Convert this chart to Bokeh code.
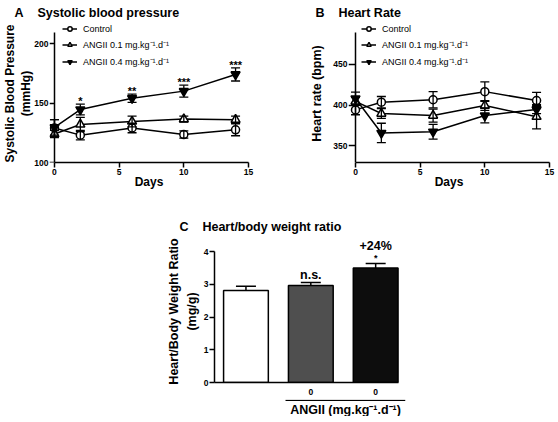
from bokeh.plotting import figure
from bokeh.models import (ColumnDataSource, Whisker, TeeHead, Legend, LegendItem,
                          LinearAxis, FixedTicker, Spacer, Range1d)
from bokeh.layouts import column, row
from bokeh.core.properties import value
from bokeh.embed import file_html
from bokeh.resources import INLINE

# ---------------- data ----------------
days = [0, 2, 6, 10, 14]
series_labels = ["Control", "ANGII 0.1 mg.kg\u207b\u00b9.d\u207b\u00b9", "ANGII 0.4 mg.kg\u207b\u00b9.d\u207b\u00b9"]

sbp_control = [129, 123, 129, 123.5, 127.5]
sbp_control_err = [7, 4, 4, 3, 5]
sbp_ang01 = [124, 132, 134.5, 136.5, 136]
sbp_ang01_err = [3, 6, 4.5, 2.5, 3]
sbp_ang04 = [129.5, 144.5, 154, 160, 174]
sbp_ang04_err = [6.5, 4.5, 3.5, 5, 5.5]
sbp_sig = ["", "*", "**", "***", "***"]

hr_control = [394, 403.5, 406.5, 416.5, 405.5]
hr_control_err = [6, 7, 10, 12, 10]
hr_ang01 = [404.5, 389.5, 387, 399.5, 385.5]
hr_ang01_err = [5, 6, 8, 6, 15]
hr_ang04 = [408, 365.5, 367, 387, 394.5]
hr_ang04_err = [8, 12, 9, 9, 5]

bar_groups = ["Control", "ANGII 0.1", "ANGII 0.4"]
bar_dose_labels = ["", "0", "0"]
hbw_ratio = [2.81, 2.96, 3.50]
hbw_err = [0.13, 0.09, 0.13]
hbw_sig = ["", "n.s.", "*"]
hbw_change = ["", "", "+24%"]
bracket_label = "ANGII (mg.kg\u207b\u00b9.d\u207b\u00b9)"

FONT = "Liberation Sans"
NB = "\u00a0"


def style_common(p):
    p.grid.visible = False
    p.outline_line_color = None
    p.background_fill_color = "white"
    p.border_fill_color = "white"
    p.title.text_font = FONT
    p.title.text_font_size = "12.5px"
    p.title.text_font_style = "bold"
    p.title.text_color = "black"


def style_axis(ax, tick_size="8.5px"):
    ax.axis_line_width = 1.5
    ax.axis_line_color = "black"
    ax.major_tick_line_width = 1.5
    ax.major_tick_line_color = "black"
    ax.major_tick_in = 0
    ax.major_tick_out = 5
    ax.minor_tick_line_color = None
    ax.major_label_text_font = FONT
    ax.major_label_text_font_size = tick_size
    ax.major_label_text_font_style = "bold"
    ax.major_label_text_color = "black"
    ax.major_label_standoff = 1
    ax.axis_label_text_font = FONT
    ax.axis_label_text_font_style = "bold"
    ax.axis_label_text_color = "black"


def add_y_axes(p, ticks, bounds, label, label_size, label_standoff, tick_out, line_height=1.2):
    # spine + tick marks placed at x = 0 (day 0)
    spine = LinearAxis(ticker=FixedTicker(ticks=ticks), fixed_location=0, bounds=bounds)
    style_axis(spine)
    spine.major_tick_out = tick_out
    spine.major_label_text_color = None
    # tick labels + axis title at the frame edge
    lab = LinearAxis(ticker=FixedTicker(ticks=ticks), axis_label=label)
    style_axis(lab)
    lab.axis_line_color = None
    lab.major_tick_line_color = None
    lab.major_tick_out = 0
    lab.axis_label_text_font_size = label_size
    lab.axis_label_standoff = label_standoff
    lab.axis_label_text_line_height = line_height
    p.add_layout(lab, "left")
    p.add_layout(spine, "left")


def time_panel(p, ys, errs, markers, sizes, fills, labels, legend_xy):
    items = []
    for y, e, m, s, f, lab in zip(ys, errs, markers, sizes, fills, labels):
        src = ColumnDataSource(dict(x=days, y=y,
                                    lo=[a - b for a, b in zip(y, e)],
                                    hi=[a + b for a, b in zip(y, e)]))
        ln = p.line("x", "y", source=src, line_color="black", line_width=1.5)
        p.add_layout(Whisker(source=src, base="x", lower="lo", upper="hi",
                             line_color="black", line_width=1.3, level="glyph",
                             upper_head=TeeHead(size=9, line_width=1.3, line_color="black"),
                             lower_head=TeeHead(size=9, line_width=1.3, line_color="black")))
        sc = p.scatter("x", "y", source=src, marker=m, size=s, fill_color=f,
                       line_color="black", line_width=1.5)
        items.append(LegendItem(label=lab, renderers=[ln, sc]))
    leg = Legend(items=items, location=legend_xy, orientation="vertical",
                 background_fill_alpha=0, border_line_color=None,
                 padding=0, margin=0, spacing=4, glyph_width=15, glyph_height=11,
                 label_height=11, label_standoff=6,
                 label_text_font=FONT, label_text_font_size="9px",
                 label_text_color="black")
    p.add_layout(leg)


markers = ["circle", "triangle", "inverted_triangle"]
msizes = [8, 9, 9]
mfills = ["white", "white", "black"]

# ---------------- panel A ----------------
pA = figure(width=290, height=208, x_range=Range1d(-0.383, 15), y_range=Range1d(100, 216.0),
            output_backend="svg", toolbar_location=None, y_axis_location=None,
            min_border_left=47, min_border_right=42, min_border_top=24, min_border_bottom=46,
            title="A" + NB * 4 + "Systolic blood pressure")
style_common(pA)
pA.title.offset = -35
pA.title.standoff = 6
pA.title.vertical_align = "top"
time_panel(pA, [sbp_control, sbp_ang01, sbp_ang04],
           [sbp_control_err, sbp_ang01_err, sbp_ang04_err],
           markers, msizes, mfills, series_labels, (13, 94))
sig_src = ColumnDataSource(dict(x=days, y=[a + b for a, b in zip(sbp_ang04, sbp_ang04_err)], t=sbp_sig))
pA.text("x", "y", text="t", source=sig_src, text_align="center", text_baseline="bottom",
        text_font=value(FONT), text_font_size="11px", text_font_style="bold",
        text_color="black", y_offset=3)

pA.xaxis.ticker = FixedTicker(ticks=[0, 5, 10, 15])
pA.xaxis.bounds = (0, 15)
pA.xaxis.axis_label = "Days"
style_axis(pA.xaxis[0])
pA.xaxis.axis_label_text_font_size = "12px"
pA.xaxis.axis_label_standoff = -3
add_y_axes(pA, [100, 150, 200], (100, 209.2), "Systolic Blood Pressure\n(mmHg)", "12px", -2, 5,
           line_height=1.15)

# ---------------- panel B ----------------
pB = figure(width=266, height=208, x_range=Range1d(-0.541, 15), y_range=Range1d(329.1, 499.3),
            output_backend="svg", toolbar_location=None, y_axis_location=None,
            min_border_left=58, min_border_right=7, min_border_top=24, min_border_bottom=46,
            title="B" + NB * 4 + "Heart Rate")
style_common(pB)
pB.title.offset = -33
pB.title.standoff = 6
pB.title.vertical_align = "top"
time_panel(pB, [hr_control, hr_ang01, hr_ang04],
           [hr_control_err, hr_ang01_err, hr_ang04_err],
           markers, msizes, mfills, series_labels, (13, 94))
pB.xaxis.ticker = FixedTicker(ticks=[0, 5, 10, 15])
pB.xaxis.bounds = (0, 15)
pB.xaxis.axis_label = "Days"
style_axis(pB.xaxis[0])
pB.xaxis.axis_label_text_font_size = "12px"
pB.xaxis.axis_label_standoff = -3
add_y_axes(pB, [350, 400, 450], (329.1, 489.4), "Heart rate (bpm)", "12.5px", 6, 7)

# ---------------- panel C ----------------
pos = [i + 1 for i in range(len(bar_groups))]
xr_C = Range1d(0.515, 3.46)
pC = figure(width=254, height=191, x_range=xr_C, y_range=Range1d(0, 4.336),
            output_backend="svg", toolbar_location=None,
            min_border_left=54, min_border_right=9, min_border_top=32, min_border_bottom=17,
            title="C" + NB * 4 + "Heart/body weight ratio")
style_common(pC)
pC.title.offset = -35
pC.title.standoff = 13
bsrc = ColumnDataSource(dict(x=pos, top=hbw_ratio,
                             hi=[a + b for a, b in zip(hbw_ratio, hbw_err)],
                             color=["white", "#4f4f4f", "#0d0d0d"],
                             sig=hbw_sig, chg=hbw_change,
                             sig_size=["12.5px", "12.5px", "9px"]))
pC.add_layout(Whisker(source=bsrc, base="x", lower="top", upper="hi", line_color="black",
                      line_width=1.5, level="underlay",
                      upper_head=TeeHead(size=20, line_width=1.5, line_color="black"),
                      lower_head=None))
pC.vbar(x="x", top="top", bottom=0, width=0.69, source=bsrc, fill_color="color",
        line_color="black", line_width=1.5)
pC.text(x="x", y="hi", text="sig", source=bsrc, text_align="center", text_baseline="bottom",
        text_font=value(FONT), text_font_size="sig_size", text_font_style="bold",
        text_color="black", y_offset=-1)
pC.text(x="x", y="hi", text="chg", source=bsrc, text_align="center", text_baseline="bottom",
        text_font=value(FONT), text_font_size="12.5px", text_font_style="bold",
        text_color="black", y_offset=-11)

pC.xaxis.ticker = FixedTicker(ticks=pos)
pC.xaxis.major_label_overrides = {p_: l_ for p_, l_ in zip(pos, bar_dose_labels)}
pC.xaxis.bounds = (0.515, 3.354)
style_axis(pC.xaxis[0])
pC.xaxis.major_tick_out = 0
pC.xaxis.major_tick_line_color = None
pC.xaxis.major_label_standoff = 6
pC.yaxis.ticker = FixedTicker(ticks=[0, 1, 2, 3, 4])
pC.yaxis.bounds = (0, 4)
style_axis(pC.yaxis[0])
pC.yaxis.axis_label = "Heart/Body Weight Ratio\n(mg/g)"
pC.yaxis.axis_label_text_font_size = "12.5px"
pC.yaxis.axis_label_standoff = 2
pC.yaxis.axis_label_text_line_height = 1.3

# bracket with the ANGII dose label under the two treated groups
pD = figure(width=254, height=17, x_range=xr_C, y_range=Range1d(0, 1),
            output_backend="svg", toolbar_location=None,
            x_axis_location=None, y_axis_location=None,
            min_border_left=54, min_border_right=9, min_border_top=0, min_border_bottom=0)
pD.grid.visible = False
pD.outline_line_color = None
br_x0 = pos[1] - 0.39
br_x1 = pos[2] + 0.46
pD.segment(x0=[br_x0], y0=[0.95], x1=[br_x1], y1=[0.95], line_color="black", line_width=1.2)
pD.text(x=[(br_x0 + br_x1) / 2], y=[0.36], text=[bracket_label], text_align="center",
        text_baseline="middle", text_font=value(FONT), text_font_size="12.5px",
        text_font_style="bold", text_color="black")

layout = column(row(pA, pB), row(Spacer(width=160, height=208), column(pC, pD)))
open("out.html", "w").write(file_html(layout, INLINE))
